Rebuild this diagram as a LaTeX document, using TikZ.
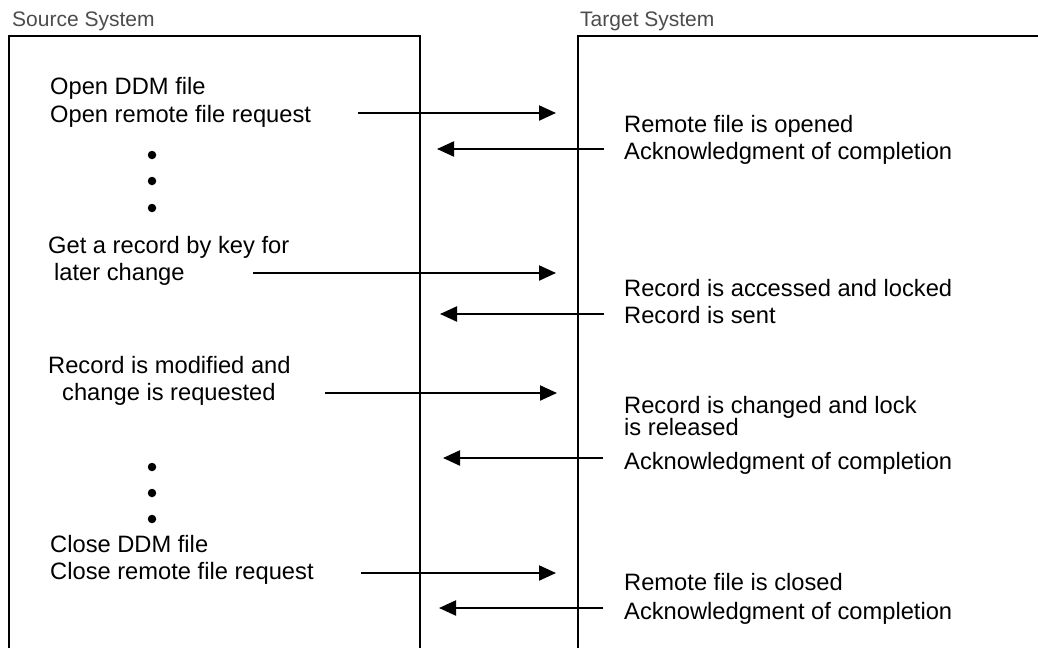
\documentclass[tikz,border=0pt]{standalone}
\usepackage{fontspec}
\setmainfont{Liberation Sans}
\usetikzlibrary{arrows.meta}
\tikzset{
  frame/.style={line width=2pt},
  msg/.style={line width=2.2pt,-{Triangle[length=17pt,width=15pt]}},
  txt/.style={anchor=base west,inner sep=0pt,font=\fontsize{23.7}{28}\selectfont},
  hdr/.style={anchor=base west,inner sep=0pt,text=black!70,font=\fontsize{21}{24}\selectfont},
  dot/.style={circle,fill=black,inner sep=0pt,minimum size=8.5pt}
}
\begin{document}
\begin{tikzpicture}[x=1pt,y=-1pt]
\useasboundingbox (0,0) rectangle (1038,648);
% headers
\node[hdr] (src) at (12,26) {Source System};
\node[hdr] (tgt) at (580,26) {Target System};
% frames
\draw[frame] (9,648) -- (9,36) -- (420,36) -- (420,648);
\draw[frame] (578,648) -- (578,36) -- (1038,36);
% left texts
\node[txt] (l1) at (50,94) {Open DDM file};
\node[txt] (l2) at (50,122) {Open remote file request};
\node[dot] (d1) at (152,155) {};
\node[dot] (d2) at (152,181) {};
\node[dot] (d3) at (152,208) {};
\node[txt] (l3) at (48,253) {Get a record by key for};
\node[txt] (l4) at (54,280) {later change};
\node[txt] (l5) at (48,373) {Record is modified and};
\node[txt] (l6) at (62,400) {change is requested};
\node[dot] (d4) at (152,467) {};
\node[dot] (d5) at (152,493) {};
\node[dot] (d6) at (152,519) {};
\node[txt] (l7) at (50,552) {Close DDM file};
\node[txt] (l8) at (50,579) {Close remote file request};
% right texts
\node[txt] (r1) at (624,132) {Remote file is opened};
\node[txt] (r2) at (624,159) {Acknowledgment of completion};
\node[txt] (r3) at (624,296) {Record is accessed and locked};
\node[txt] (r4) at (624,323) {Record is sent};
\node[txt] (r5) at (624,413) {Record is changed and lock};
\node[txt] (r6) at (624,435) {is released};
\node[txt] (r7) at (624,469) {Acknowledgment of completion};
\node[txt] (r8) at (624,590) {Remote file is closed};
\node[txt] (r9) at (624,619) {Acknowledgment of completion};
% arrow end points
\coordinate (a1s) at (358,113); \coordinate (a1e) at (556,113);
\coordinate (b1s) at (604,149); \coordinate (b1e) at (437,149);
\coordinate (a2s) at (253,273); \coordinate (a2e) at (556,273);
\coordinate (b2s) at (604,314); \coordinate (b2e) at (440,314);
\coordinate (a3s) at (325,393); \coordinate (a3e) at (557,393);
\coordinate (b3s) at (603,458); \coordinate (b3e) at (443,458);
\coordinate (a4s) at (361,573); \coordinate (a4e) at (556,573);
\coordinate (b4s) at (603,608); \coordinate (b4e) at (439,608);
\draw[msg] (a1s) -- (a1e);
\draw[msg] (b1s) -- (b1e);
\draw[msg] (a2s) -- (a2e);
\draw[msg] (b2s) -- (b2e);
\draw[msg] (a3s) -- (a3e);
\draw[msg] (b3s) -- (b3e);
\draw[msg] (a4s) -- (a4e);
\draw[msg] (b4s) -- (b4e);
\end{tikzpicture}
\end{document}
